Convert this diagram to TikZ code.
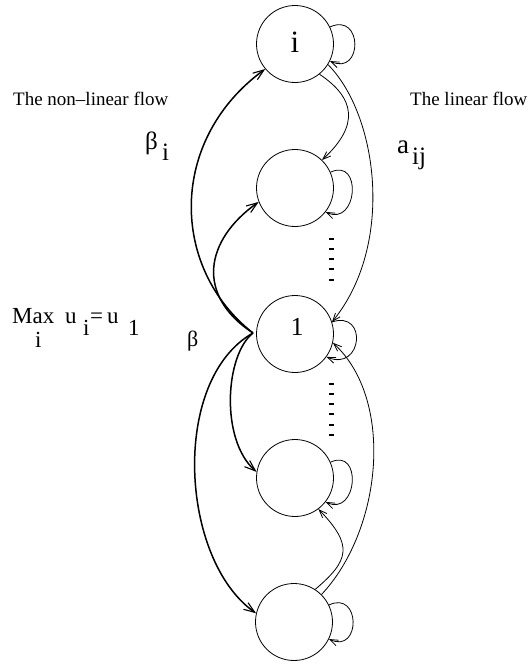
\documentclass[tikz,border=0pt]{standalone}
\usepackage{fontspec}
\setmainfont{Liberation Serif}
\usetikzlibrary{arrows.meta}
\begin{document}
\begin{tikzpicture}[x=1pt,y=-1pt,
  state/.style={circle,draw,line width=0.8pt,minimum size=77pt,inner sep=0pt},
  nl/.style={line width=1.5pt,-{Straight Barb[length=11pt,width=8pt,line width=1.1pt]}},
  ln/.style={line width=0.8pt,-{Straight Barb[length=8pt,width=6pt]}},
  txt/.style={anchor=base west,inner sep=0pt,font=\fontsize{19}{22}\selectfont},
  lab/.style={anchor=base west,inner sep=0pt,font=\fontsize{25}{28}\selectfont},
  mlab/.style={anchor=base west,inner sep=0pt,font=\fontsize{23}{26}\selectfont},
  dotmark/.style={line width=1.6pt}]
\useasboundingbox (0,0) rectangle (529,665);
% states
\node[state] (ni) at (295,44) {};
\node[state] (n2) at (295,188) {};
\node[state] (n1) at (295,334) {};
\node[state] (n4) at (295,478) {};
\node[state] (n5) at (294,622) {};
\node[anchor=base,inner sep=0pt,font=\fontsize{31}{34}\selectfont] (li) at (295,52) {i};
\node[anchor=base,inner sep=0pt,font=\fontsize{26}{30}\selectfont] (l1) at (297,335) {1};
\coordinate (P) at (253,333);
% texts
\node[txt] (tnl) at (13,105) {The non–linear flow};
\node[txt] (tl) at (410,105) {The linear flow};
\node[lab] (beta) at (145,149) {β};
\node[lab] (betai) at (162,160) {i};
\node[lab,font=\fontsize{27}{30}\selectfont] (a) at (397,153) {a};
\node[lab] (aij) at (412,164) {ij};
\node[mlab] (max) at (12,323) {Max};
\node[mlab] (maxi) at (35,347) {i};
\node[mlab] (u1) at (65,323) {u};
\node[mlab] (ui) at (83,335) {i};
\node[mlab] (eq) at (90,323) {=};
\node[mlab] (u2) at (107,323) {u};
\node[mlab] (one) at (128,335) {1};
\node[lab,font=\fontsize{22}{26}\selectfont] (b2) at (187,346) {β};
% non-linear flow
\draw[nl] (P) .. controls (170,268) and (168,140) .. (ni.220);
\draw[nl] (P) .. controls (195,295) and (205,240) .. (n2.201);
\draw[nl] (P) .. controls (225,355) and (220,440) .. (n4.171);
\draw[nl] (P) .. controls (170,380) and (180,560) .. (n5.167);
% linear flow
\draw[ln] (ni.-51) .. controls (355,98) and (360,125) .. (n2.46);
\draw[ln] (ni.-32) .. controls (378,115) and (395,245) .. (n1.18);
\draw[ln] (n5.57) .. controls (350,560) and (353,545) .. (n4.-53);
\draw[ln] (n5.45) .. controls (382,530) and (395,400) .. (n1.-13);
% self loops
\draw[ln] (ni.26) .. controls +(33,-15) and +(33,15) .. (ni.-26);
\draw[ln] (n2.24) .. controls +(32,-15) and +(32,15) .. (n2.-38);
\draw[ln] (n1.18) .. controls +(36,-12) and +(36,15) .. (n1.-36);
\draw[ln] (n4.24) .. controls +(32,-15) and +(32,15) .. (n4.-38);
\draw[ln] (n5.26) .. controls +(32,-15) and +(32,15) .. (n5.-26);
% dots
\foreach \yy in {239,249,259,269,280,384,394,404,414,425,435}
  \draw[dotmark] (329,\yy) -- (334,\yy);
\end{tikzpicture}
\end{document}
